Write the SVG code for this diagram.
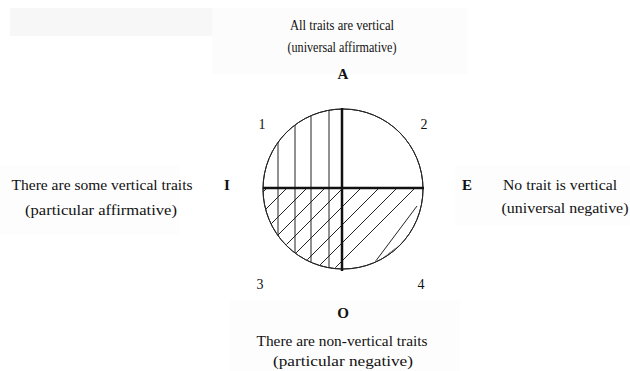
<svg xmlns="http://www.w3.org/2000/svg" width="630" height="371" viewBox="0 0 630 371">
<style>
text{font-family:"Liberation Serif","Times New Roman",serif;font-size:14px;fill:#111}
.b{font-weight:bold;font-size:15px}
.thin{stroke:#222;stroke-width:1;fill:none}
.thick{stroke:#111;stroke-width:2.5;fill:none}
</style>
<defs>
<clipPath id="lower"><path d="M263 188 H423 A80 80 0 0 1 263 188 Z"/></clipPath>
<clipPath id="circ"><circle cx="343" cy="189" r="80"/></clipPath>
</defs>
<rect width="630" height="371" fill="#fff"/>
<g id="background">
<rect x="10" y="8" width="205" height="28" fill="#f7f7f7"/>
<rect x="212" y="8" width="255" height="66" fill="#fcfcfc"/>
<rect x="0" y="165" width="180" height="70" fill="#fdfdfd"/>
<rect x="455" y="165" width="175" height="60" fill="#fdfdfd"/>
<rect x="230" y="300" width="230" height="71" fill="#fdfdfd"/>
</g>
<g id="circle">
<circle cx="343" cy="189" r="80" fill="#fff" class="thin"/>
<g clip-path="url(#lower)" class="thin">
<line x1="240" y1="215" x2="270" y2="185"/>
<line x1="240" y1="235" x2="290" y2="185"/>
<line x1="250" y1="245" x2="310" y2="185"/>
<line x1="260" y1="253" x2="328" y2="185"/>
<line x1="270" y1="261" x2="346" y2="185"/>
<line x1="280" y1="269" x2="364" y2="185"/>
<line x1="290" y1="277" x2="382" y2="185"/>
<line x1="300" y1="285" x2="400" y2="185"/>
<line x1="310" y1="293" x2="418" y2="185"/>
<line x1="375" y1="262" x2="417" y2="206"/>
<line x1="378" y1="262" x2="400" y2="245"/>
</g>
<g clip-path="url(#circ)" class="thin">
<line x1="278" y1="100" x2="278" y2="280"/>
<line x1="295" y1="100" x2="295" y2="280"/>
<line x1="311" y1="100" x2="311" y2="280"/>
<line x1="329" y1="100" x2="329" y2="280"/>
</g>
<circle cx="343" cy="189" r="80" class="thin"/>
<line class="thick" x1="263" y1="188" x2="424" y2="188"/>
<line class="thick" x1="342" y1="108" x2="342" y2="271"/>
</g>
<g id="A">
<text x="342" y="30" text-anchor="middle" textLength="104" lengthAdjust="spacingAndGlyphs">All traits are vertical</text>
<text x="342" y="52" text-anchor="middle" textLength="109" lengthAdjust="spacingAndGlyphs">(universal affirmative)</text>
<text class="b" x="343" y="79" text-anchor="middle">A</text>
</g>
<g id="I">
<text x="102" y="190" text-anchor="middle" textLength="181" lengthAdjust="spacingAndGlyphs">There are some vertical traits</text>
<text x="101" y="215" text-anchor="middle" textLength="152" lengthAdjust="spacingAndGlyphs">(particular affirmative)</text>
<text class="b" x="227" y="190" text-anchor="middle">I</text>
</g>
<g id="E">
<text class="b" x="467" y="190" text-anchor="middle">E</text>
<text x="560" y="190" text-anchor="middle" textLength="114" lengthAdjust="spacingAndGlyphs">No trait is vertical</text>
<text x="565" y="213" text-anchor="middle" textLength="127" lengthAdjust="spacingAndGlyphs">(universal negative)</text>
</g>
<g id="O">
<text class="b" x="343" y="318" text-anchor="middle">O</text>
<text x="342" y="346" text-anchor="middle" textLength="171" lengthAdjust="spacingAndGlyphs">There are non-vertical traits</text>
<text x="343" y="366" text-anchor="middle" textLength="140" lengthAdjust="spacingAndGlyphs">(particular negative)</text>
</g>
<g id="numbers">
<text x="262" y="129" text-anchor="middle">1</text>
<text x="424" y="129" text-anchor="middle">2</text>
<text x="260" y="289" text-anchor="middle">3</text>
<text x="421" y="289" text-anchor="middle">4</text>
</g>
<g id="connectors"></g>
</svg>
